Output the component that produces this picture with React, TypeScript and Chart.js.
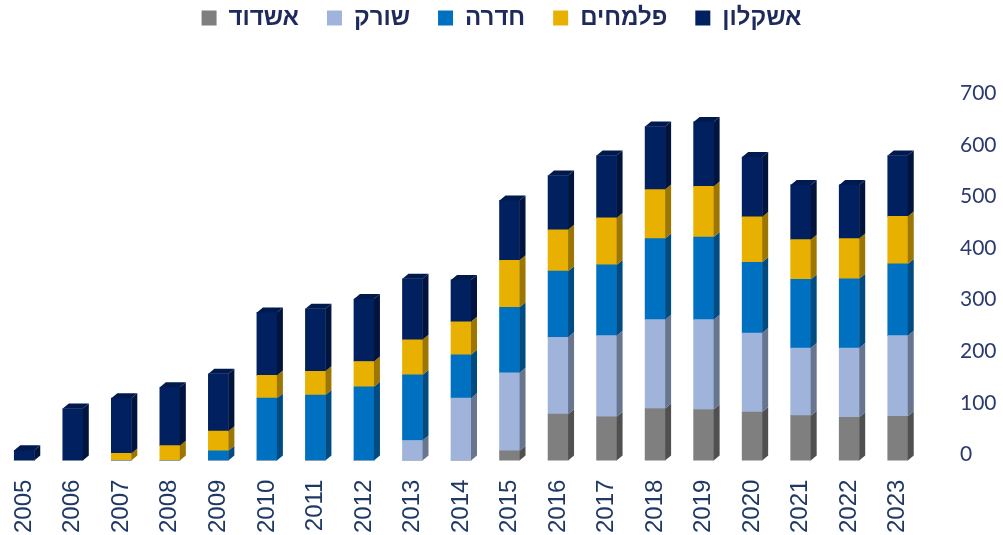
import React, { useEffect, useRef } from "react";
import { Chart, registerables } from "chart.js";

Chart.register(...registerables);

const years = ["2005","2006","2007","2008","2009","2010","2011","2012","2013","2014","2015","2016","2017","2018","2019","2020","2021","2022","2023"];
const ashdod =    [0, 0, 0, 0, 0, 0, 0, 0, 0, 0, 19, 90, 85, 101, 99, 94, 87, 84, 86];
const sorek =     [0, 0, 0, 0, 0, 0, 0, 0, 39, 121, 151, 149, 157, 172, 174, 153, 131, 134, 156];
const hadera =    [0, 0, 0, 0, 19, 121, 127, 143, 127, 84, 127, 128, 137, 157, 160, 137, 133, 134, 139];
const palmachim = [0, 0, 14, 29, 38, 44, 46, 49, 68, 64, 91, 80, 91, 95, 98, 88, 77, 78, 92];
const ashkelon =  [20, 101, 107, 113, 111, 122, 121, 121, 118, 81, 116, 105, 121, 122, 125, 116, 106, 104, 118];

const seriesNames = ["אשדוד", "שורק", "חדרה", "פלמחים", "אשקלון"];
const frontColors = ["#7F7F7F", "#A0B4DB", "#0070C0", "#E8B000", "#00205F"];
const sideColors = ["#505050", "#67758F", "#004B82", "#9C7600", "#00143D"];
const topColors = ["#6A6A6A", "#8797BA", "#005DA0", "#C49500", "#001A4E"];

const DX = 6;
const DY = 5;

const threeD = {
  id: "threeD",
  afterDatasetsDraw(chart: any) {
    const ctx = chart.ctx;
    const n = chart.data.labels.length;
    const metas = chart.data.datasets.map((_: any, i: number) => chart.getDatasetMeta(i));
    for (let j = 0; j < n; j++) {
      let topIdx = -1;
      for (let i = 0; i < metas.length; i++) {
        const v = chart.data.datasets[i].data[j];
        if (v > 0) topIdx = i;
      }
      for (let i = 0; i < metas.length; i++) {
        const v = chart.data.datasets[i].data[j];
        if (!(v > 0)) continue;
        const el = metas[i].data[j];
        const { x, y, base, width } = el.getProps(["x", "y", "base", "width"], true);
        const r = x + width / 2;
        const l = x - width / 2;
        ctx.save();
        ctx.fillStyle = sideColors[i];
        ctx.beginPath();
        ctx.moveTo(r, y);
        ctx.lineTo(r + DX, y - DY);
        ctx.lineTo(r + DX, base - DY);
        ctx.lineTo(r, base);
        ctx.closePath();
        ctx.fill();
        if (i === topIdx) {
          ctx.fillStyle = topColors[i];
          ctx.beginPath();
          ctx.moveTo(l, y);
          ctx.lineTo(l + DX, y - DY);
          ctx.lineTo(r + DX, y - DY);
          ctx.lineTo(r, y);
          ctx.closePath();
          ctx.fill();
        }
        ctx.restore();
      }
    }
  },
};

export default function App() {
  const ref = useRef<HTMLCanvasElement | null>(null);
  useEffect(() => {
    if (!ref.current) return;
    const values = [ashdod, sorek, hadera, palmachim, ashkelon];
    const chart = new Chart(ref.current, {
      type: "bar",
      data: {
        labels: years,
        datasets: values.map((d, i) => ({
          label: seriesNames[i],
          data: d,
          backgroundColor: frontColors[i],
          borderWidth: 0,
          barThickness: 20,
        })),
      },
      options: {
        animation: false,
        responsive: true,
        maintainAspectRatio: false,
        layout: { padding: { left: 0, right: 0, top: -22, bottom: -17 } },
        plugins: {
          legend: {
            display: true,
            position: "top",
            labels: {
              boxWidth: 15,
              boxHeight: 15,
              padding: 28,
              color: "#1F2A5C",
              font: { family: "'Liberation Sans', Arial, sans-serif", size: 24, weight: "bold" },
            },
          },
          title: {
            display: true,
            text: " ",
            weight: 500,
            font: { size: 1 },
            padding: { top: 0, bottom: 58 },
          } as any,
          tooltip: { enabled: false },
        },
        scales: {
          x: {
            stacked: true,
            grid: { display: false, drawTicks: false },
            border: { display: false },
            ticks: {
              minRotation: 90,
              maxRotation: 90,
              padding: 19,
              color: "#1F3864",
              font: { family: "'Liberation Sans', Arial, sans-serif", size: 24 },
            },
          },
          y: {
            stacked: true,
            position: "right",
            min: 0,
            max: 700,
            grid: { display: false, drawTicks: false },
            border: { display: false },
            afterFit: (s: any) => {
              s.width = 81;
            },
            ticks: {
              stepSize: 100,
              padding: 38,
              labelOffset: -6,
              color: "#2B3A6E",
              font: { family: "Lato, 'Open Sans', sans-serif", size: 21 },
            },
          },
        },
      },
      plugins: [threeD],
    });
    return () => chart.destroy();
  }, []);
  return (
    <div style={{ position: "fixed", left: 0, top: 0, width: 1003, height: 535, background: "#fff" }}>
      <canvas ref={ref} />
    </div>
  );
}
